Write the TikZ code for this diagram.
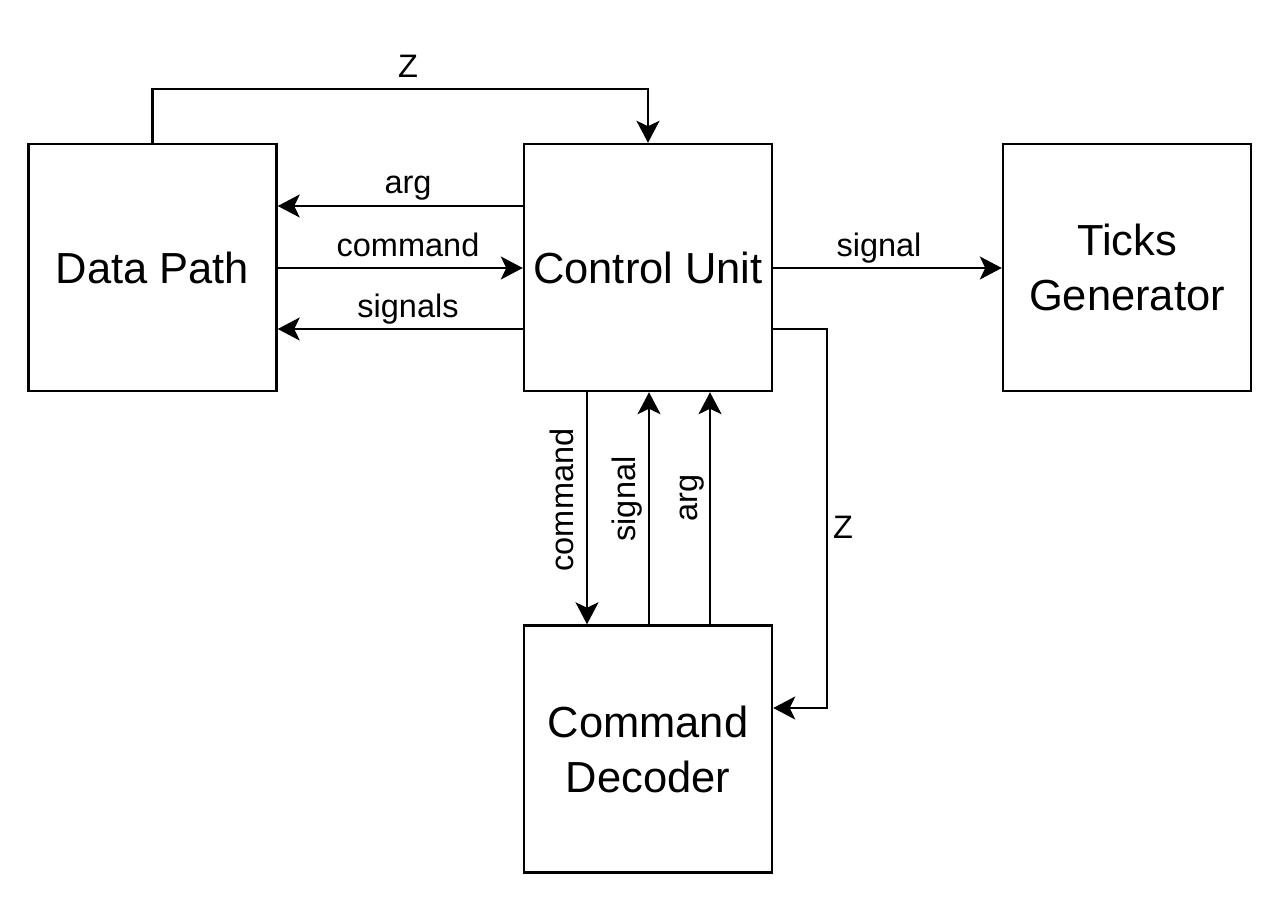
\documentclass[tikz,border=0pt]{standalone}
\usepackage{fontspec}
\setmainfont{Liberation Sans}
\usetikzlibrary{arrows.meta,calc}
\tikzset{
  blockbox/.style={draw, line width=0.05cm, minimum width=4.96cm, minimum height=4.94cm,
    align=center, font=\fontsize{24.75pt}{31.3pt}\selectfont, inner sep=0pt},
  arr/.style={line width=0.05cm, -{Stealth[length=0.44cm, width=0.46cm, inset=0.11cm]}},
  lbl/.style={font=\fontsize{18.5pt}{22pt}\selectfont, inner sep=0pt, anchor=base},
}
\begin{document}
\begin{tikzpicture}[x=0.02cm, y=-0.02cm]
\useasboundingbox (0,0) rectangle (1280,902);
\node[blockbox] (dp) at (152.5,267.5) {Data Path};
\node[blockbox] (cu) at (648,267.5) {Control Unit};
\node[blockbox] (tg) at (1127,267.5) {Ticks\\Generator};
\node[blockbox] (cd) at (648,749) {Command\\Decoder};
\coordinate (zt) at (400,89);
\coordinate (zr) at (827,708);
% Z top
\draw[arr] (dp.north) |- (zt) -| (cu.north);
\node[lbl] (lz1) at (408,78) {Z};
% arg
\draw[arr] (cu.west |- 0,206) -- (dp.east |- 0,206);
\node[lbl] (larg) at (408,194) {arg};
% command
\draw[arr] (dp.east |- 0,268) -- (cu.west |- 0,268);
\node[lbl] (lcmd) at (408,256) {command};
% signals
\draw[arr] (cu.west |- 0,329) -- (dp.east |- 0,329);
\node[lbl] (lsigs) at (408,317) {signals};
% signal to ticks
\draw[arr] (cu.east |- 0,268) -- (tg.west |- 0,268);
\node[lbl] (lsig) at (879,256) {signal};
% verticals
\draw[arr] (cu.south -| 587,0) -- (cd.north -| 587,0);
\node[lbl, rotate=90] (lvcmd) at (573,500) {command};
\draw[arr] (cd.north -| 649,0) -- (cu.south -| 649,0);
\node[lbl, rotate=90] (lvsig) at (635,499) {signal};
\draw[arr] (cd.north -| 710,0) -- (cu.south -| 710,0);
\node[lbl, rotate=90] (lvarg) at (697,498) {arg};
% Z right
\draw[arr] (cu.east |- 0,329) -| (zr) -- (cd.east |- zr);
\node[lbl] (lz2) at (843,538) {Z};
\end{tikzpicture}
\end{document}
